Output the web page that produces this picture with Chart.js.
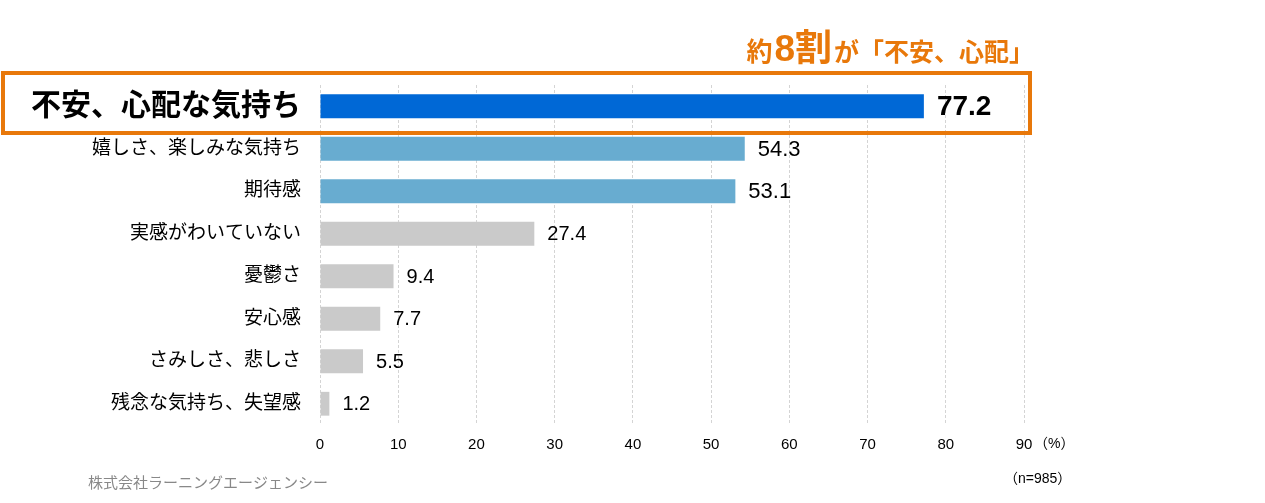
<!DOCTYPE html>
<html>
<head>
<meta charset="utf-8">
<script src="https://cdn.jsdelivr.net/npm/chart.js@4"></script>
<style>
  body { margin: 0; background: #fff; }
  #wrap { width: 1265px; height: 503px; }
</style>
</head>
<body>
<div id="wrap"><canvas id="chart" width="1265" height="503"></canvas></div>
<script>
var categories = ["不安、心配な気持ち", "嬉しさ、楽しみな気持ち", "期待感", "実感がわいていない", "憂鬱さ", "安心感", "さみしさ、悲しさ", "残念な気持ち、失望感"];
var values = [77.2, 54.3, 53.1, 27.4, 9.4, 7.7, 5.5, 1.2];
var xTicks = [0, 10, 20, 30, 40, 50, 60, 70, 80, 90];

var FONT = '"Liberation Sans", "Noto Sans CJK JP", sans-serif';
var ORANGE = "#e8780a";

var barColors = values.map(function (v, i) {
    if (i == 0) return "#0068d6";
    if (i < 3) return "#68acd0";
    return "#cacaca";
});

// labels, box, headline and notes
var extras = {
    id: "extras",
    afterDatasetsDraw: function (chart) {
        var ctx = chart.ctx;
        var meta = chart.getDatasetMeta(0);
        ctx.save();
        ctx.textBaseline = "middle";
        ctx.textAlign = "left";
        meta.data.forEach(function (bar, i) {
            ctx.fillStyle = "#000";
            if (i == 0) ctx.font = "bold 28px " + FONT;
            else if (i < 3) ctx.font = "22px " + FONT;
            else ctx.font = "20px " + FONT;
            ctx.fillText(values[i].toFixed(1), bar.x + 13, bar.y + 1);
        });

        // orange frame around first row
        ctx.strokeStyle = ORANGE;
        ctx.lineWidth = 4;
        ctx.strokeRect(3, 73, 1027, 60);

        // headline
        ctx.textBaseline = "alphabetic";
        ctx.fillStyle = ORANGE;
        var parts = [
            ["bold 26px " + FONT, "約"],
            ["bold 37px " + FONT, "8割"],
            ["bold 25px " + FONT, "が「不安、心配」"]
        ];
        var total = 0;
        parts.forEach(function (p) { ctx.font = p[0]; total += ctx.measureText(p[1]).width + 2; });
        var x = 1036 - total;
        parts.forEach(function (p) {
            ctx.font = p[0];
            ctx.fillText(p[1], x, 61);
            x += ctx.measureText(p[1]).width + 2;
        });

        // unit and notes
        ctx.fillStyle = "#000";
        ctx.font = "14px " + FONT;
        ctx.textBaseline = "middle";
        ctx.fillText("（%）", 1034, 444);
        ctx.fillText("（n=985）", 1004, 479);
        ctx.fillStyle = "#888";
        ctx.font = "15px " + FONT;
        ctx.fillText("株式会社ラーニングエージェンシー", 88, 484);
        ctx.restore();
    }
};

new Chart(document.getElementById("chart"), {
    type: "bar",
    data: {
        labels: categories,
        datasets: [{
            data: values,
            backgroundColor: barColors,
            barPercentage: 0.56,
            categoryPercentage: 1
        }]
    },
    options: {
        indexAxis: "y",
        responsive: false,
        animation: false,
        layout: { padding: { left: 0, right: 241, top: 85, bottom: 48 } },
        plugins: {
            legend: { display: false },
            tooltip: { enabled: false }
        },
        scales: {
            x: {
                min: 0,
                max: 90,
                afterBuildTicks: function (scale) {
                    scale.ticks = xTicks.map(function (v) { return { value: v }; });
                },
                afterFit: function (scale) { scale.height = 30; },
                grid: { color: "#d4d4d4", lineWidth: 1, drawTicks: false },
                border: { display: false, dash: [3, 2] },
                ticks: {
                    color: "#000",
                    padding: 11,
                    font: { family: FONT, size: 15 }
                }
            },
            y: {
                afterFit: function (scale) { scale.width = 320; },
                grid: { display: false },
                border: { display: false },
                ticks: {
                    color: "#000",
                    padding: 11,
                    font: function (c) {
                        return c.index == 0 ? { family: FONT, size: 30, weight: "bold" } : { family: FONT, size: 19 };
                    }
                }
            }
        }
    },
    plugins: [extras]
});
</script>
</body>
</html>
